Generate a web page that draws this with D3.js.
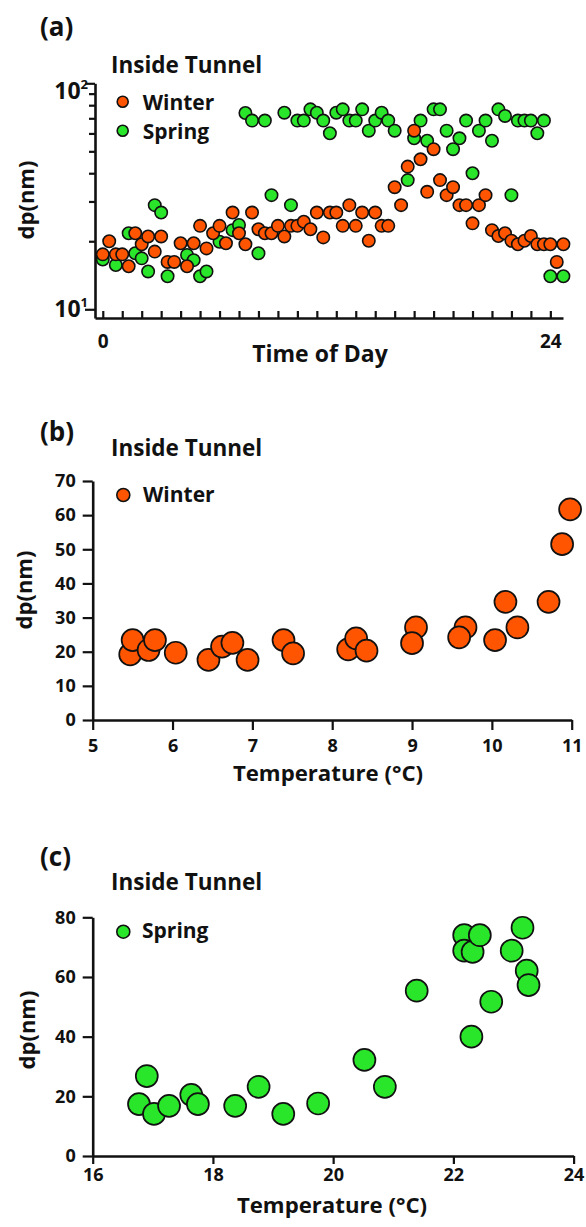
<!DOCTYPE html>
<html><head><meta charset="utf-8">
<script src="https://cdn.jsdelivr.net/npm/d3@7"></script>
<style>
body{margin:0;background:#fff}
svg{display:block}
text{font-family:"Open Sans",sans-serif;font-weight:700;fill:#111}
</style>
</head><body>
<svg id="chart" width="586" height="1227"></svg>
<script>
// ---------- DATA ----------
// (a) time of day (hours), 20-min bins
const timeOfDay = [0,0.33,0.67,1,1.33,1.67,2,2.33,2.67,3,3.33,3.67,4,4.33,4.67,5,5.33,5.67,6,6.33,6.67,7,7.33,7.67,8,8.33,8.67,9,9.33,9.67,10,10.33,10.67,11,11.33,11.67,12,12.33,12.67,13,13.33,13.67,14,14.33,14.67,15,15.33,15.67,16,16.33,16.67,17,17.33,17.67,18,18.33,18.67,19,19.33,19.67,20,20.33,20.67,21,21.33,21.67,22,22.33,22.67,23,23.33,23.67];
const winterDp = [17.5,20.0,17.5,17.5,15.5,21.7,19.4,21.0,18.0,21.0,16.2,16.2,19.6,15.5,19.6,23.4,18.6,21.7,23.4,19.6,26.8,21.7,19.4,26.8,22.6,21.7,21.7,23.4,21.0,23.4,23.4,24.4,22.6,26.8,20.8,26.8,26.8,23.4,28.9,23.4,26.8,20.1,26.8,23.4,23.4,34.7,28.9,42.8,61.7,46.1,33.1,51.1,37.3,32.0,34.7,28.9,28.9,24.0,28.9,32.0,22.4,21.1,21.7,20.1,19.4,20.1,21.1,19.4,19.4,19.4,16.2,19.4];
const springDp = [16.6,null,15.7,null,21.7,17.7,16.8,14.7,28.9,26.8,14.0,null,null,17.4,16.5,14.0,14.7,null,19.9,null,22.4,23.6,73.9,68.4,17.7,68.4,32.0,null,74.1,28.9,68.4,68.4,76.7,74.1,68.4,60.1,74.1,76.7,68.4,68.4,76.7,61.7,68.4,74.1,68.4,61.7,null,37.3,57.1,68.4,55.7,76.7,76.7,61.7,51.1,57.1,68.4,40.0,61.7,68.4,55.7,76.7,71.7,32.0,68.4,68.4,68.4,60.1,68.4,14.0,null,14.0];
const hourTicks = [0,1,2,3,4,5,6,7,8,9,10,11,12,13,14,15,16,17,18,19,20,21,22,23];
const logTicks = [10,20,30,40,50,60,70,80,90,100];

// (b) winter: temperature vs dp
const winterTemp   = [5.47,5.50,5.70,5.78,6.04,6.45,6.62,6.75,6.94,7.39,7.51,8.20,8.30,8.43,9.05,9.00,9.67,9.59,10.04,10.17,10.32,10.71,10.88,10.98];
const winterTempDp = [19.2,23.4,20.5,23.4,19.7,17.6,21.5,22.6,17.6,23.4,19.5,20.7,23.9,20.3,27.1,22.5,27.1,24.2,23.4,34.6,27.1,34.6,51.5,61.7];
const bXTicks = [5,6,7,8,9,10,11];
const bYTicks = [0,10,20,30,40,50,60,70];

// (c) spring: temperature vs dp
const springTemp   = [16.77,16.90,17.02,17.27,17.64,17.75,18.37,18.76,19.17,19.75,20.52,20.86,21.39,22.30,22.18,22.18,22.32,22.44,22.63,22.97,23.15,23.22,23.25];
const springTempDp = [17.4,26.8,14.1,16.8,20.5,17.4,16.8,23.2,14.1,17.6,32.2,23.2,55.4,40.0,74.0,68.8,68.4,74.0,51.7,68.8,76.5,62.1,57.3];
const cXTicks = [16,18,20,22,24];
const cYTicks = [0,20,40,60,80];

const ORANGE = "#ff5500", GREEN = "#2ae62a";
const fmtInt = d3.format("d");

const svg = d3.select("#chart");

function styleAxis(g){
  g.selectAll("path.domain").attr("stroke","#111").attr("stroke-width",2.6);
  g.selectAll(".tick line").attr("stroke","#111").attr("stroke-width",2.2);
  g.selectAll(".tick text").style("font-family",'"Open Sans",sans-serif').style("font-weight",700).attr("fill","#111");
}
function txt(x,y,s,size,anchor){
  return svg.append("text").attr("x",x).attr("y",y).attr("font-size",size)
    .attr("text-anchor",anchor||"start").text(s);
}
function ylab(x,y,s){
  svg.append("text").attr("transform",`translate(${x},${y}) rotate(-90)`)
    .attr("text-anchor","middle").attr("font-size",22).text(s);
}

// ---------- PANEL (a) ----------
const xA = d3.scaleLinear().domain([-0.4, 23.65]).range([95, 563]);
const yA = d3.scaleLog().domain([9.15, 100]).range([318, 83.3]);

const gxA = svg.append("g").attr("transform","translate(0,318)")
  .call(d3.axisBottom(xA).tickValues(hourTicks).tickSize(-7).tickSizeOuter(0).tickPadding(17)
    .tickFormat(d => d===0 ? "0" : (d===23 ? "24" : "")));
styleAxis(gxA);
gxA.selectAll(".tick text").attr("font-size",19);

const gyA = svg.append("g").attr("transform","translate(95,0)")
  .call(d3.axisLeft(yA).tickValues(logTicks).tickSizeOuter(0).tickFormat(""));
styleAxis(gyA);
gyA.selectAll(".tick line").attr("x2", d => (d===10||d===100) ? -10 : -6);

// log labels
[[100,"2",yA(100)+16],[10,"1",yA(10)+8]].forEach(([v,sup,yy])=>{
  const t = svg.append("text").attr("x",88).attr("y",yy).attr("text-anchor","end").attr("font-size",23);
  t.append("tspan").text("10");
  t.append("tspan").attr("font-size",13).attr("dy",-10).text(sup);
});

// points
const spA = timeOfDay.map((t,i)=>({t, v: springDp[i]})).filter(d=>d.v!==null);
const wiA = timeOfDay.map((t,i)=>({t, v: winterDp[i]}));
svg.append("g").selectAll("circle").data(spA).join("circle")
  .attr("cx",d=>xA(d.t)).attr("cy",d=>yA(d.v)).attr("r",6.2)
  .attr("fill",GREEN).attr("stroke","#111").attr("stroke-width",1.6);
svg.append("g").selectAll("circle").data(wiA).join("circle")
  .attr("cx",d=>xA(d.t)).attr("cy",d=>yA(d.v)).attr("r",6.2)
  .attr("fill",ORANGE).attr("stroke","#111").attr("stroke-width",1.6);

txt(40,36,"(a)",26);
txt(111,72.5,"Inside Tunnel",22.5);
svg.append("circle").attr("cx",122.7).attr("cy",101.7).attr("r",5.5).attr("fill",ORANGE).attr("stroke","#111").attr("stroke-width",1.6);
svg.append("circle").attr("cx",122.7).attr("cy",130.7).attr("r",5.5).attr("fill",GREEN).attr("stroke","#111").attr("stroke-width",1.6);
txt(142.7,110,"Winter",21);
txt(142.7,138.5,"Spring",21);
ylab(34,200,"dp(nm)");
txt(320,362,"Time of Day",23,"middle");

// ---------- PANEL (b) ----------
const xB = d3.scaleLinear().domain([5,11]).range([92.7,571.7]);
const yB = d3.scaleLinear().domain([0,70]).range([720,481]);
const gxB = svg.append("g").attr("transform","translate(0,720)")
  .call(d3.axisBottom(xB).tickValues(bXTicks).tickFormat(fmtInt).tickSize(10).tickSizeOuter(0).tickPadding(9));
styleAxis(gxB); gxB.selectAll(".tick text").attr("font-size",18);
const gyB = svg.append("g").attr("transform","translate(92.7,0)")
  .call(d3.axisLeft(yB).tickValues(bYTicks).tickFormat(fmtInt).tickSize(10).tickSizeOuter(0).tickPadding(7));
styleAxis(gyB); gyB.selectAll(".tick text").attr("font-size",18);

svg.append("g").selectAll("circle").data(winterTemp.map((t,i)=>({t,v:winterTempDp[i]}))).join("circle")
  .attr("cx",d=>xB(d.t)).attr("cy",d=>yB(d.v)).attr("r",11)
  .attr("fill",ORANGE).attr("stroke","#111").attr("stroke-width",1.7);

txt(40,441,"(b)",26);
txt(111,456,"Inside Tunnel",22.5);
svg.append("circle").attr("cx",123.3).attr("cy",495).attr("r",6.5).attr("fill",ORANGE).attr("stroke","#111").attr("stroke-width",1.6);
txt(143,501.7,"Winter",21);
ylab(32,590,"dp(nm)");
txt(328,781,"Temperature (°C)",22.2,"middle");

// ---------- PANEL (c) ----------
const xC = d3.scaleLinear().domain([16,24]).range([92.7,573.6]);
const yC = d3.scaleLinear().domain([0,80]).range([1156,917.3]);
const gxC = svg.append("g").attr("transform","translate(0,1156)")
  .call(d3.axisBottom(xC).tickValues(cXTicks).tickFormat(fmtInt).tickSize(8).tickSizeOuter(0).tickPadding(4));
styleAxis(gxC); gxC.selectAll(".tick text").attr("font-size",18);
const gyC = svg.append("g").attr("transform","translate(92.7,0)")
  .call(d3.axisLeft(yC).tickValues(cYTicks).tickFormat(fmtInt).tickSize(10).tickSizeOuter(0).tickPadding(7));
styleAxis(gyC); gyC.selectAll(".tick text").attr("font-size",18);

svg.append("g").selectAll("circle").data(springTemp.map((t,i)=>({t,v:springTempDp[i]}))).join("circle")
  .attr("cx",d=>xC(d.t)).attr("cy",d=>yC(d.v)).attr("r",11)
  .attr("fill",GREEN).attr("stroke","#111").attr("stroke-width",1.7);

txt(40,866,"(c)",26);
txt(111,890,"Inside Tunnel",22.5);
svg.append("circle").attr("cx",123.3).attr("cy",931.7).attr("r",6.5).attr("fill",GREEN).attr("stroke","#111").attr("stroke-width",1.6);
txt(142,938,"Spring",21);
ylab(35,1030,"dp(nm)");
txt(332,1213,"Temperature (°C)",22.2,"middle");
</script>
</body></html>
